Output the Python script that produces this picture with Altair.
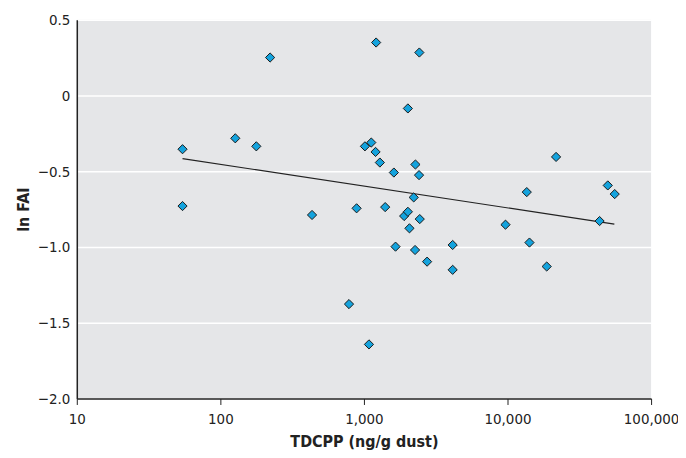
import altair as alt
import pandas as pd

tdcpp = [54.5, 54.5, 127, 178, 222, 435, 787, 889, 1016, 1084, 1125, 1205, 1216, 1291,
         1406, 1616, 1660, 1906, 2023, 2023, 2075, 2222, 2270, 2284, 2420, 2432, 2448,
         2754, 4150, 4150, 9683, 13620, 14220, 18750, 21790, 43780, 49930, 55800]
ln_fai = [-0.355, -0.73, -0.283, -0.336, 0.25, -0.789, -1.377, -0.745, -0.336, -1.643,
          -0.311, -0.373, 0.349, -0.443, -0.737, -0.509, -0.998, -0.796, -0.086, -0.768,
          -0.877, -0.673, -1.020, -0.456, -0.526, 0.283, -0.816, -1.097, -0.987, -1.151,
          -0.853, -0.638, -0.971, -1.129, -0.406, -0.829, -0.594, -0.651]

fit_x = [54.5, 55500]
fit_y = [-0.417, -0.849]

x_ticks = [10, 100, 1000, 10000, 100000]
y_ticks = [0.5, 0, -0.5, -1.0, -1.5, -2.0]

pts = pd.DataFrame({"x": tdcpp, "y": ln_fai})
fit = pd.DataFrame({"x": fit_x, "y": fit_y})

FONT = "Liberation Sans Narrow, DejaVu Sans Condensed, Roboto, sans-serif"

xscale = alt.Scale(type="log", domain=[10, 100000])
yscale = alt.Scale(domain=[-2.0, 0.5], nice=False, zero=False)

xaxis = alt.Axis(values=x_ticks, format=",", title="TDCPP (ng/g dust)", grid=False,
                 labelFlush=False, labelOverlap=False,
                 tickColor="#222222", tickSize=6, domainColor="#222222", domainWidth=1.5,
                 labelFont=FONT, labelFontSize=15, labelColor="#222222", labelPadding=7,
                 titleFont=FONT, titleFontSize=16, titleFontWeight="bold", titleColor="#222222",
                 titlePadding=7)
yaxis = alt.Axis(values=y_ticks, title="ln FAI", grid=True, gridColor="#FFFFFF", gridWidth=1.5,
                 ticks=False, domainColor="#222222", domainWidth=1.5, labelFlush=False,
                 labelExpr="datum.value == 0 ? '0' : replace(format(datum.value, '.1f'), '-', '\u2013')",
                 labelFont=FONT, labelFontSize=15, labelColor="#222222", labelPadding=7,
                 titleFont=FONT, titleFontSize=16, titleFontWeight="bold", titleColor="#222222",
                 titlePadding=6)

line = alt.Chart(fit).mark_line(color="#222222", strokeWidth=1.2).encode(
    x=alt.X("x:Q", scale=xscale, axis=xaxis),
    y=alt.Y("y:Q", scale=yscale, axis=yaxis),
)
points = alt.Chart(pts).mark_point(shape="diamond", filled=True, fill="#14A3DD",
                                   stroke="#1a1a1a", strokeWidth=1, size=85, opacity=1).encode(
    x=alt.X("x:Q", scale=xscale),
    y=alt.Y("y:Q", scale=yscale),
)

chart = (line + points).properties(
    width=576, height=380,
    autosize=alt.AutoSizeParams(type="none"),
    padding={"left": 69, "top": 11, "right": 27, "bottom": 56},
).configure_view(fill="#E5E6E8", stroke=None)

chart.save("out.html", embed_options={"renderer": "svg", "actions": False})
